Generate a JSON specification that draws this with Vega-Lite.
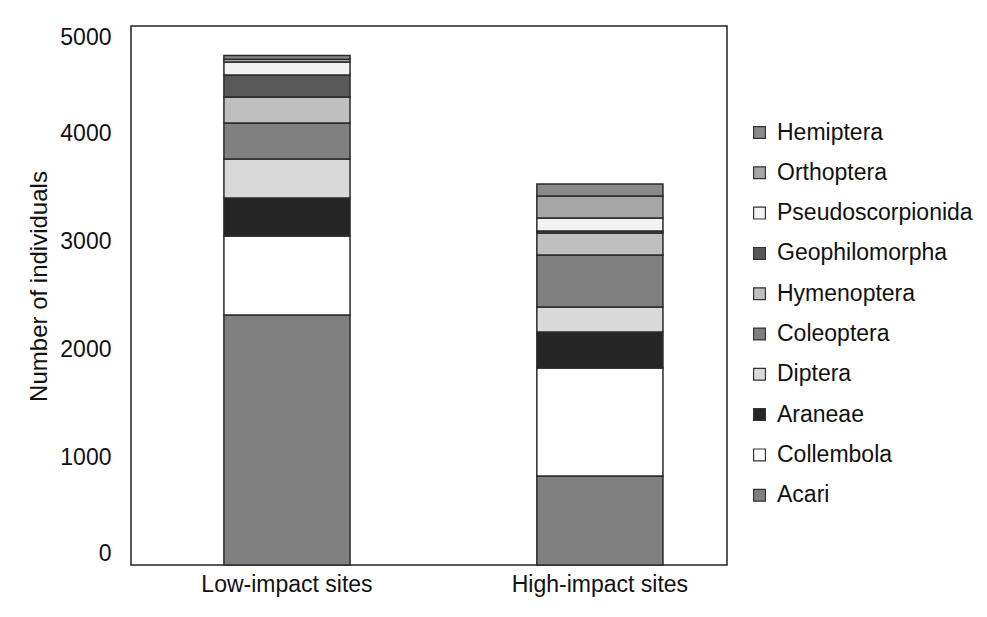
{
  "$schema": "https://vega.github.io/schema/vega-lite/v6.json",
  "autosize": {"type": "none"},
  "padding": {"left": 131, "top": 26, "right": 260, "bottom": 52},
  "width": 596,
  "height": 539,
  "background": "white",
  "config": {
    "view": {"stroke": "#222", "strokeWidth": 1.5},
    "font": "Liberation Sans"
  },
  "data": {
    "values": [
      {"site": "Low-impact sites", "taxon": "Acari", "count": 2320},
      {"site": "Low-impact sites", "taxon": "Collembola", "count": 732},
      {"site": "Low-impact sites", "taxon": "Araneae", "count": 352},
      {"site": "Low-impact sites", "taxon": "Diptera", "count": 362},
      {"site": "Low-impact sites", "taxon": "Coleoptera", "count": 334},
      {"site": "Low-impact sites", "taxon": "Hymenoptera", "count": 241},
      {"site": "Low-impact sites", "taxon": "Geophilomorpha", "count": 204},
      {"site": "Low-impact sites", "taxon": "Pseudoscorpionida", "count": 121},
      {"site": "Low-impact sites", "taxon": "Orthoptera", "count": 25},
      {"site": "Low-impact sites", "taxon": "Hemiptera", "count": 35},
      {"site": "High-impact sites", "taxon": "Acari", "count": 826},
      {"site": "High-impact sites", "taxon": "Collembola", "count": 1001},
      {"site": "High-impact sites", "taxon": "Araneae", "count": 334},
      {"site": "High-impact sites", "taxon": "Diptera", "count": 232},
      {"site": "High-impact sites", "taxon": "Coleoptera", "count": 483},
      {"site": "High-impact sites", "taxon": "Hymenoptera", "count": 204},
      {"site": "High-impact sites", "taxon": "Geophilomorpha", "count": 18},
      {"site": "High-impact sites", "taxon": "Pseudoscorpionida", "count": 121},
      {"site": "High-impact sites", "taxon": "Orthoptera", "count": 204},
      {"site": "High-impact sites", "taxon": "Hemiptera", "count": 111}
    ]
  },
  "transform": [
    {"calculate": "indexof(['Acari','Collembola','Araneae','Diptera','Coleoptera','Hymenoptera','Geophilomorpha','Pseudoscorpionida','Orthoptera','Hemiptera'], datum.taxon)", "as": "stackOrder"}
  ],
  "mark": {"type": "bar", "stroke": "#2a2a2a", "strokeWidth": 1.5},
  "encoding": {
    "x": {
      "field": "site",
      "type": "nominal",
      "sort": ["Low-impact sites", "High-impact sites"],
      "scale": {"paddingInner": 0.597, "paddingOuter": 0.2508, "align": 0.592},
      "axis": {
        "title": null,
        "labelAngle": 0,
        "ticks": false,
        "domain": false,
        "labelFontSize": 23,
        "labelColor": "#111",
        "labelPadding": 8,
        "labelFont": "Liberation Sans"
      }
    },
    "y": {
      "field": "count",
      "type": "quantitative",
      "stack": "zero",
      "scale": {"domain": [0, 5000], "nice": false},
      "axis": {
        "title": "Number of individuals",
        "titleFontSize": 24,
        "titleFontWeight": "normal",
        "titleColor": "#111",
        "titleFont": "Liberation Sans",
        "titlePadding": 8,
        "titleY": 260,
        "values": [0, 1000, 2000, 3000, 4000, 5000],
        "format": "d",
        "labelFlush": true,
        "grid": false,
        "ticks": false,
        "domain": false,
        "labelFontSize": 23,
        "labelColor": "#111",
        "labelPadding": 20,
        "labelFont": "Liberation Sans"
      }
    },
    "color": {
      "field": "taxon",
      "type": "nominal",
      "scale": {
        "domain": ["Hemiptera", "Orthoptera", "Pseudoscorpionida", "Geophilomorpha", "Hymenoptera", "Coleoptera", "Diptera", "Araneae", "Collembola", "Acari"],
        "range": ["#8a8a8a", "#a6a6a6", "#f2f2f2", "#595959", "#bfbfbf", "#808080", "#d9d9d9", "#262626", "#ffffff", "#808080"]
      },
      "legend": {
        "title": null,
        "orient": "none",
        "legendX": 617,
        "legendY": 95,
        "padding": 0,
        "symbolType": "square",
        "symbolSize": 140,
        "symbolStrokeColor": "#333",
        "symbolStrokeWidth": 1.2,
        "symbolOpacity": 1,
        "labelFontSize": 23,
        "labelColor": "#111",
        "labelFont": "Liberation Sans",
        "labelOffset": 6,
        "rowPadding": 16.3,
        "labelLimit": 400
      }
    },
    "order": {"field": "stackOrder", "type": "quantitative", "sort": "ascending"}
  }
}
